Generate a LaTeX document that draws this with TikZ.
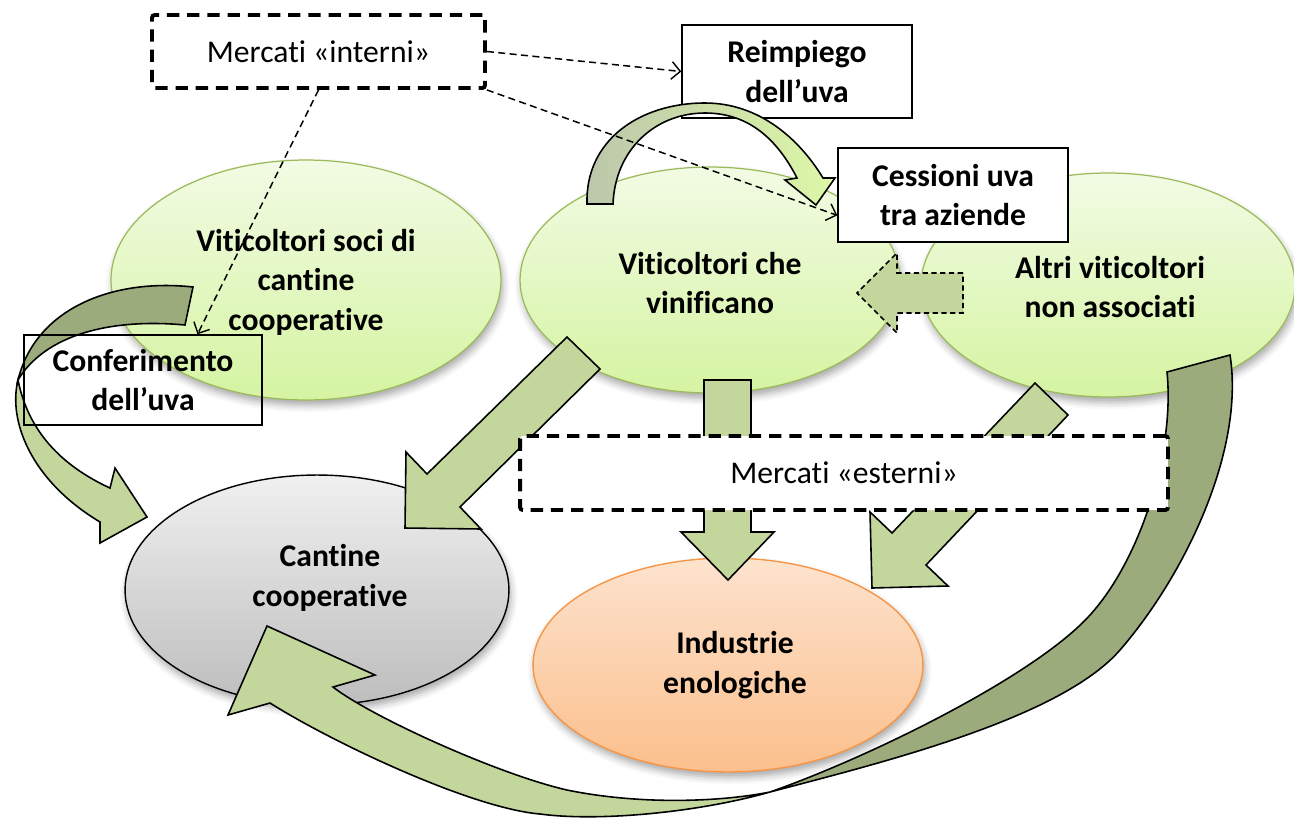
\documentclass[tikz,border=0pt]{standalone}
\usepackage{fontspec}
\setmainfont{Carlito}[Ligatures={NoCommon}]
\usetikzlibrary{arrows.meta,shapes.geometric,shadows.blur}
\newcommand\Lti{t\kern0pt\relax i}
\newcommand\Lfi{f\kern0pt\relax i}
\definecolor{gtop}{HTML}{F2FBE4}
\definecolor{gbot}{HTML}{D5F4A2}
\definecolor{gline}{HTML}{9BBB59}
\definecolor{ctop}{HTML}{F0F0F0}
\definecolor{cbot}{HTML}{BDBDBD}
\definecolor{otop}{HTML}{FDE3CE}
\definecolor{obot}{HTML}{FBBF8C}
\definecolor{oline}{HTML}{F79646}
\definecolor{lgreen}{HTML}{C3D69B}
\definecolor{dolive}{HTML}{9BAB7B}
\definecolor{rgray}{HTML}{BCC6AA}
\definecolor{rlight}{HTML}{DDF8A8}
\begin{document}
\begin{tikzpicture}[x=0.02cm,y=-0.02cm,
  txt/.style={font=\fontsize{18}{22.5}\selectfont\bfseries, align=center, inner sep=0pt},
  rtxt/.style={font=\fontsize{18}{22.5}\selectfont, align=center, inner sep=0pt},
  ell/.style={ellipse, inner sep=0pt,
    blur shadow={shadow xshift=1pt,shadow yshift=-3pt,shadow blur radius=4pt,shadow opacity=35}},
  gell/.style={ell, draw=gline, line width=0.7pt, top color=gtop, bottom color=gbot},
  tbox/.style={txt, draw=black, line width=0.8pt},
  dbox/.style={rtxt, draw=black, fill=white, line width=2.2pt, dash pattern=on 7pt off 4.5pt, rounded corners=1.5pt},
  barrow/.style={draw=black, line width=0.9pt, line join=miter, fill=lgreen},
  darrow/.style={draw=black, line width=0.9pt, line join=miter, fill=dolive},
  conn/.style={line width=0.85pt, dash pattern=on 4pt off 2.5pt, -{Straight Barb[length=5pt,width=10pt,line width=0.8pt]}}
]
\useasboundingbox (0,0) rectangle (1294,822);

% ellipses
\node[gell, minimum width=7.8cm, minimum height=4.8cm] (soci) at (306,280) {};
\node[gell, minimum width=7.6cm, minimum height=4.52cm] (vinif) at (710,280) {};
\node[gell, minimum width=7.48cm, minimum height=4.48cm] (altri) at (1108,285) {};
\node[ell, draw=black, line width=0.8pt, top color=ctop, bottom color=cbot, minimum width=7.68cm, minimum height=4.6cm] (cant) at (317,590) {};
\node[ell, draw=oline, line width=0.8pt, top color=otop, bottom color=obot, minimum width=7.8cm, minimum height=4.28cm] (ind) at (728,665) {};

\node[txt] (tsoci) at (306,282) {Vi\Lti coltori soci di\\can\Lti ne\\coopera\Lti ve};
\node[txt] (tvinif) at (710,283) {Vi\Lti coltori che\\vini\Lfi cano};
\node[txt] (taltri) at (1110,287) {Altri vi\Lti coltori\\non associa\Lti};
\node[txt] (tcant) at (330,578) {Can\Lti ne\\coopera\Lti ve};
\node[txt] (tind) at (735,665) {Industrie\\enologiche};

% Reimpiego box (under its arrow)
\node[tbox, fill=white, minimum width=4.6cm, minimum height=1.86cm] (reimp) at (797,71.5) {Reimpiego\\dell’uva};

% curved arrow: reimpiego
\draw[draw=black, line width=0.9pt, line join=miter, left color=rgray, right color=rlight]
  (587,204) .. controls (585,140) and (640,103) .. (705,103)
  .. controls (760,103) and (800,140) .. (823,178)
  -- (835,178) -- (816,205) -- (785,180) -- (797,178)
  .. controls (775,135) and (745,113) .. (705,113)
  .. controls (655,113) and (615,150) .. (613,204) -- cycle;

% left big curved arrow (conferimento)
\draw[barrow] (18,380) .. controls (8,420) and (30,480) .. (100,522)
  -- (100,543) -- (147,517) -- (115,468) -- (110,488)
  .. controls (60,465) and (28,430) .. (18,380) -- cycle;
\draw[darrow] (193,287) .. controls (110,278) and (35,310) .. (18,380)
  .. controls (45,335) and (110,318) .. (185,325) -- cycle;

% big curved arrow from altri to cantine
\draw[barrow] (770,792) .. controls (700,812) and (600,822) .. (540,814)
  .. controls (470,808) and (330,741) .. (270,703)
  -- (228,715) -- (267,626) -- (375,675) -- (333,687)
  .. controls (370,716) and (497,774) .. (567,790)
  .. controls (640,805) and (720,802) .. (770,792) -- cycle;
\draw[darrow] (1230,355) .. controls (1245,450) and (1185,575) .. (1120,650)
  .. controls (1060,719) and (880,763) .. (770,792)
  .. controls (870,757) and (1035,676) .. (1090,615)
  .. controls (1140,560) and (1175,452) .. (1167,372) -- cycle;

% straight block arrows
\draw[barrow] (567,337) -- (427,474) -- (406,452) -- (405,528) -- (481,529) -- (460,507) -- (600,369) -- cycle;
\draw[barrow] (1035,383) -- (892,533) -- (870,512) -- (872,588) -- (948,586) -- (926,565) -- (1068,415) -- cycle;
\draw[barrow] (704,380) -- (704,532) -- (681,532) -- (728,580) -- (774,532) -- (751,532) -- (751,380) -- cycle;
\draw[barrow, dash pattern=on 3pt off 2pt] (963,273) -- (897,273) -- (897,253) -- (857,293) -- (897,333) -- (897,313) -- (963,313) -- cycle;

% boxes
\node[dbox, minimum width=12.96cm, minimum height=1.48cm] (mest) at (844,473) {Merca\Lti{} «esterni»};
\node[dbox, minimum width=6.66cm, minimum height=1.46cm] (mint) at (318.5,51.5) {Merca\Lti{} «interni»};
\node[tbox, fill=white, minimum width=4.6cm, minimum height=1.88cm] (cess) at (953,195) {Cessioni uva\\tra aziende};
\node[tbox, minimum width=4.76cm, minimum height=1.8cm] (conf) at (143,380) {Conferimento\\dell’uva};

% dashed connectors
\draw[conn] (mint.east) -- (reimp.west);
\draw[conn] (mint.south east) -- (cess.190);
\draw[conn] (mint.south) -- (conf.40);
\end{tikzpicture}
\end{document}
